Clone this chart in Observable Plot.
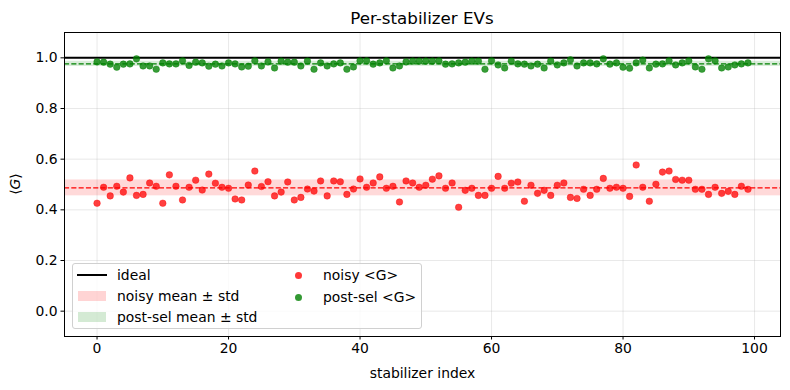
<!DOCTYPE html>
<html><head><meta charset="utf-8">
<script src="https://cdn.jsdelivr.net/npm/d3@7"></script>
<script src="https://cdn.jsdelivr.net/npm/@observablehq/plot@0.6"></script>
<style>
body{margin:0;background:#fff;font-family:"DejaVu Sans",sans-serif;}
#wrap{position:relative;width:790px;height:390px;overflow:hidden;background:#fff;}
#title{position:absolute;left:64px;width:716px;top:8px;text-align:center;font-size:16.7px;line-height:20px;color:#000;}
#chart{position:absolute;left:0;top:31px;}
#ylabel{position:absolute;left:-5px;top:176px;width:40px;height:16px;line-height:16px;text-align:center;font-size:13.9px;transform:rotate(-90deg);color:#000;white-space:nowrap;}
#legend{position:absolute;left:72px;top:263px;width:348px;height:64px;border:1px solid #d0d0d0;border-radius:3px;background:rgba(255,255,255,0.8);font-size:13.9px;color:#000;}
.item{position:absolute;white-space:nowrap;line-height:16px;}
.sw{position:absolute;}
</style></head>
<body>
<div id="wrap">
  <div id="title">Per-stabilizer EVs</div>
  <div id="chart"></div>
  <div id="ylabel">⟨<i>G</i>⟩</div>
  <div id="legend"></div>
</div>
<script>
const noisy = [
 0.426,0.489,0.455,0.493,0.470,0.526,0.457,0.461,0.506,0.493,
 0.426,0.538,0.493,0.439,0.489,0.517,0.478,0.541,0.505,0.489,
 0.485,0.443,0.439,0.498,0.553,0.492,0.511,0.455,0.470,0.510,
 0.439,0.449,0.482,0.474,0.514,0.455,0.514,0.511,0.461,0.482,
 0.522,0.489,0.506,0.530,0.485,0.493,0.431,0.514,0.506,0.489,
 0.497,0.521,0.534,0.485,0.506,0.410,0.477,0.485,0.457,0.457,
 0.485,0.532,0.485,0.505,0.510,0.434,0.497,0.465,0.477,0.457,
 0.497,0.506,0.449,0.445,0.481,0.457,0.481,0.524,0.485,0.489,
 0.485,0.453,0.577,0.489,0.434,0.501,0.549,0.553,0.520,0.517,
 0.517,0.481,0.481,0.461,0.489,0.465,0.473,0.461,0.493,0.481
];
const postsel = [
 0.984,0.983,0.975,0.963,0.975,0.976,0.996,0.968,0.968,0.955,
 0.980,0.976,0.976,0.988,0.970,0.983,0.980,0.967,0.975,0.968,
 0.980,0.976,0.964,0.967,0.988,0.968,0.984,0.960,0.987,0.983,
 0.983,0.968,0.987,0.955,0.980,0.968,0.976,0.980,0.955,0.964,
 0.988,0.988,0.975,0.980,0.988,0.960,0.968,0.984,0.987,0.987,
 0.987,0.987,0.988,0.975,0.976,0.980,0.983,0.987,0.987,0.955,
 0.988,0.972,0.960,0.987,0.976,0.975,0.968,0.975,0.960,0.987,
 0.972,0.980,0.992,0.968,0.980,0.980,0.976,0.996,0.975,0.980,
 0.963,0.959,0.980,0.991,0.960,0.975,0.976,0.988,0.972,0.980,
 0.988,0.964,0.955,0.996,0.988,0.960,0.964,0.972,0.976,0.980
];
const xTicks = [0,20,40,60,80,100];
const yTicks = [0.0,0.2,0.4,0.6,0.8,1.0];
const idealValue = [1.0];
const legendLabels = ["ideal","noisy mean ± std","post-sel mean ± std","noisy <G>","post-sel <G>"];

const noisyPts = noisy.map((v,i)=>({i,v}));
const postPts = postsel.map((v,i)=>({i,v}));
function stats(a){const m=d3.mean(a);const s=Math.sqrt(d3.mean(a,v=>(v-m)**2));return {m,s};}
const ns = stats(noisy), ps = stats(postsel);

const gridStyle = {stroke:"#b0b0b0", strokeOpacity:0.35, strokeWidth:0.8};
const plot = Plot.plot({
  width:790, height:359, marginLeft:64, marginRight:10, marginTop:1, marginBottom:54,
  x:{domain:[-4.95,103.95]},
  y:{domain:[-0.1,1.1]},
  style:{fontFamily:"DejaVu Sans", fontSize:"13.9px", color:"black", background:"white", overflow:"visible"},
  marks:[
    Plot.gridX(xTicks, gridStyle),
    Plot.gridY(yTicks, gridStyle),
    Plot.rect([ns], {y1:d=>d.m-d.s, y2:d=>d.m+d.s, fill:"red", fillOpacity:0.15}),
    Plot.rect([ps], {y1:d=>d.m-d.s, y2:d=>d.m+d.s, fill:"green", fillOpacity:0.15}),
    Plot.ruleY(idealValue, {stroke:"black", strokeWidth:2}),
    Plot.ruleY([ns.m], {stroke:"red", strokeWidth:1.2, strokeDasharray:"5.1,2.2"}),
    Plot.ruleY([ps.m], {stroke:"green", strokeWidth:1.2, strokeDasharray:"5.1,2.2"}),
    Plot.dot(noisyPts, {x:"i", y:"v", r:3.3, fill:"red", fillOpacity:0.75, stroke:"red", strokeOpacity:0.75, strokeWidth:0.5}),
    Plot.dot(postPts, {x:"i", y:"v", r:3.3, fill:"green", fillOpacity:0.78, stroke:"green", strokeOpacity:0.78, strokeWidth:0.5}),
    Plot.axisX(xTicks, {tickSize:3.5, tickPadding:3.5, stroke:"black", label:"stabilizer index", labelAnchor:"center", labelArrow:false, labelOffset:41}),
    Plot.axisY(yTicks, {tickSize:3.5, tickPadding:3.5, stroke:"black", tickFormat:d3.format(".1f"), label:null}),
    Plot.frame({stroke:"black", strokeWidth:1})
  ]
});
document.getElementById("chart").appendChild(plot);

const lg = document.getElementById("legend");
function add(html){lg.insertAdjacentHTML("beforeend", html);}
const esc = s => s.replace(/</g,"&lt;").replace(/>/g,"&gt;");
add(`<div class="sw" style="left:4px;top:10px;width:30px;height:2px;background:#000"></div>`);
add(`<div class="item" style="left:44px;top:3px">${esc(legendLabels[0])}</div>`);
add(`<div class="sw" style="left:5px;top:27px;width:28px;height:10px;background:rgba(255,0,0,0.17)"></div>`);
add(`<div class="item" style="left:44px;top:24px">${esc(legendLabels[1])}</div>`);
add(`<div class="sw" style="left:5px;top:48px;width:28px;height:10px;background:rgba(0,128,0,0.17)"></div>`);
add(`<div class="item" style="left:44px;top:45px">${esc(legendLabels[2])}</div>`);
add(`<div class="sw" style="left:221.5px;top:8px;width:7px;height:7px;border-radius:50%;background:rgba(255,0,0,0.78)"></div>`);
add(`<div class="item" style="left:250px;top:3px">${esc(legendLabels[3])}</div>`);
add(`<div class="sw" style="left:221.5px;top:30px;width:7px;height:7px;border-radius:50%;background:rgba(0,128,0,0.8)"></div>`);
add(`<div class="item" style="left:250px;top:25px">${esc(legendLabels[4])}</div>`);
</script>
</body></html>
